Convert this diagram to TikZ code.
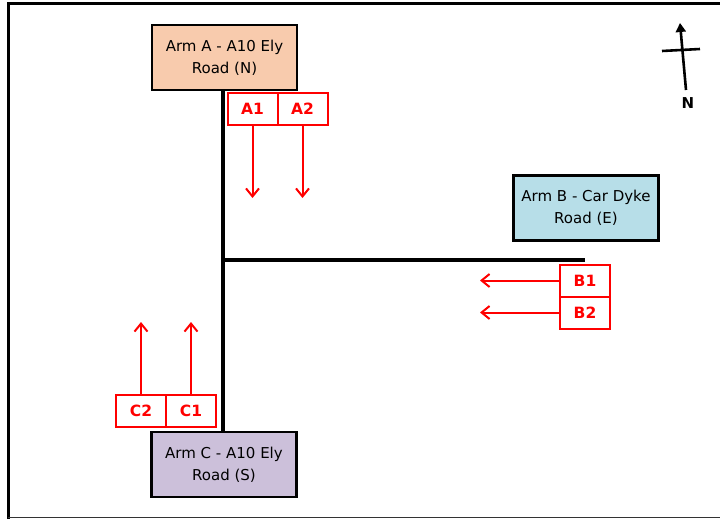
\documentclass[tikz,border=0pt]{standalone}
\usepackage{fontspec}
\setmainfont{DejaVu Sans}
\usetikzlibrary{positioning,arrows.meta}
\definecolor{armpeach}{HTML}{F8CBAD}
\definecolor{armblue}{HTML}{B7DEE8}
\definecolor{armlilac}{HTML}{CCC0DA}
\tikzset{
  armbox/.style ={rectangle, draw=black, line width=2.8pt, align=center,
                  minimum width=145pt, minimum height=65pt, inner sep=2pt,
                  font=\fontsize{15}{22}\selectfont},
  lanebox/.style={rectangle, draw=red, line width=2pt, fill=white,
                  minimum width=50pt, minimum height=32pt, inner sep=0pt,
                  text=red, font=\fontsize{15.5}{16}\selectfont\bfseries},
  road/.style   ={line width=3.2pt, black},
  flow/.style   ={-{Straight Barb[length=8pt,width=13pt,line width=2pt]}, red, line width=2pt},
}
\begin{document}
\begin{tikzpicture}[x=1pt,y=-1pt]
  \useasboundingbox (0,0) rectangle (720,519);
  % frame
  \draw[line width=3pt] (8,519) -- (8,4) -- (720,4);
  \draw[line width=1.4pt, black!80] (8,517.5) -- (720,517.5);
  % arms
  \node[armbox, fill=armpeach] (armA) at (224.5,57.5)  {Arm A - A10 Ely\\Road (N)};
  \node[armbox, fill=armblue]  (armB) at (586,208)     {Arm B - Car Dyke\\Road (E)};
  \node[armbox, fill=armlilac] (armC) at (224,464.5)   {Arm C - A10 Ely\\Road (S)};
  % roads
  \coordinate (jn)   at (223,260);
  \coordinate (eend) at (585,260);
  \draw[road] (armA.south -| jn) -- (armC.north -| jn);
  \draw[road] (jn) -- (eend);
  % lanes
  \node[lanebox] (A1) at (252.5,109) {A1};
  \node[lanebox, right=-2pt of A1] (A2) {A2};
  \node[lanebox] (B1) at (585,280.5) {B1};
  \node[lanebox, below=-2pt of B1] (B2) {B2};
  \node[lanebox] (C1) at (191,411) {C1};
  \node[lanebox, left=-2pt of C1] (C2) {C2};
  \coordinate (A1e) at (253,198);
  \coordinate (A2e) at (303,198);
  \coordinate (B1e) at (480,281);
  \coordinate (B2e) at (480,313);
  \coordinate (C1e) at (191,322);
  \coordinate (C2e) at (141,322);
  \draw[flow] (A1.south) -- (A1.south |- A1e);
  \draw[flow] (A2.south) -- (A2.south |- A2e);
  \draw[flow] (B1.west) -- (B1.west -| B1e);
  \draw[flow] (B2.west) -- (B2.west -| B2e);
  \draw[flow] (C1.north) -- (C1.north |- C1e);
  \draw[flow] (C2.north) -- (C2.north |- C2e);
  % north arrow
  \coordinate (ntail) at (686,90);
  \coordinate (nhead) at (680,23);
  \draw[line width=2.6pt, -{Triangle[length=9pt,width=10pt]}] (ntail) -- (nhead);
  \draw[line width=2.6pt] (662,51) -- (700,49);
  \node[font=\fontsize{15}{16}\selectfont\bfseries] (nlabel) at (688,103) {N};
\end{tikzpicture}
\end{document}
